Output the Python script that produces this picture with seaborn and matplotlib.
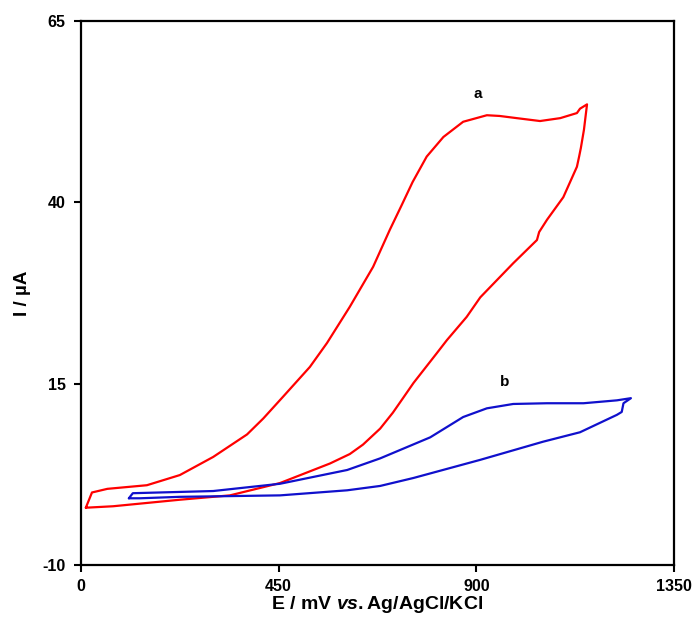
import numpy as np
import pandas as pd
import seaborn as sns
import matplotlib.pyplot as plt

# curve a (red) : closed CV loop, E in mV, I in uA
a_E = [11, 25, 60, 150, 225, 301, 378, 415, 460, 521, 560, 612, 665, 703, 730, 755, 787, 825,
       870, 924, 953, 992, 1045, 1091, 1129, 1136, 1152,
       1145, 1138, 1134, 1129, 1098, 1061, 1043, 1038, 984, 909, 878, 833, 810, 757, 733,
       710, 681, 642, 612, 567, 453, 339, 225, 73, 11]
a_I = [-2.1, 0.0, 0.5, 1.0, 2.4, 4.9, 8.0, 10.2, 13.2, 17.3, 20.6, 25.6, 31.1, 36.2, 39.6, 42.8, 46.3, 49.0,
       51.1, 52.0, 51.9, 51.6, 51.2, 51.6, 52.3, 52.9, 53.5,
       50.0, 47.5, 46.3, 44.9, 40.7, 37.6, 35.9, 34.8, 31.6, 26.9, 24.2, 21.0, 19.2, 15.1, 13.0,
       11.0, 8.8, 6.6, 5.3, 4.0, 1.3, -0.4, -1.0, -1.9, -2.1]

# curve b (blue)
b_E = [109, 118, 301, 453, 606, 681, 795, 870, 924, 984, 1061, 1144, 1220, 1252,
       1235, 1231, 1220, 1136, 1052, 909, 757, 681, 606, 453, 225, 134, 109]
b_I = [-0.8, -0.1, 0.2, 1.2, 3.1, 4.7, 7.6, 10.4, 11.6, 12.2, 12.3, 12.3, 12.7, 13.0,
       12.3, 11.1, 10.7, 8.3, 7.0, 4.5, 2.0, 0.9, 0.3, -0.4, -0.6, -0.8, -0.8]

x_ticks = [0, 450, 900, 1350]
y_ticks = [-10, 15, 40, 65]

sns.set_style("ticks")
plt.rcParams['font.family'] = ['Liberation Sans', 'DejaVu Sans']
plt.rcParams['font.weight'] = 'bold'
plt.rcParams['text.color'] = 'black'
plt.rcParams['axes.labelcolor'] = 'black'
plt.rcParams['xtick.color'] = 'black'
plt.rcParams['ytick.color'] = 'black'
plt.rcParams['axes.unicode_minus'] = False
plt.rcParams['mathtext.fontset'] = 'custom'
plt.rcParams['mathtext.it'] = 'Liberation Sans:italic:bold'
plt.rcParams['mathtext.rm'] = 'Liberation Sans:bold'

fig = plt.figure(figsize=(6.97, 6.19), dpi=100)
ax = fig.add_axes([0.1162, 0.0872, 0.8508, 0.879])

sns.lineplot(x=a_E, y=a_I, sort=False, estimator=None, color='#ff0000', linewidth=1.6, ax=ax)
sns.lineplot(x=b_E, y=b_I, sort=False, estimator=None, color='#1010cc', linewidth=1.6, ax=ax)

ax.text(904, 54.0, 'a', fontsize=11, fontweight='bold', ha='center', va='bottom')
ax.text(965, 14.3, 'b', fontsize=11, fontweight='bold', ha='center', va='bottom')

ax.set_xlim(0, 1350)
ax.set_ylim(-10, 65)
ax.set_xticks(x_ticks)
ax.set_yticks(y_ticks)
ax.tick_params(labelsize=11.5, width=1.5, length=5, direction='out')
ax.tick_params(axis='y', pad=6)
ax.tick_params(axis='x', pad=5)
for s in ax.spines.values():
    s.set_linewidth(1.6)
    s.set_color('black')
for lab in ax.get_xticklabels() + ax.get_yticklabels():
    lab.set_fontweight('bold')

ax.set_xlabel(r'E / mV $\mathit{vs.}$Ag/AgCl/KCl', fontsize=14, fontweight='bold', labelpad=0)
ax.set_ylabel(u'I / \u00b5A', fontsize=13.5, fontweight='bold', labelpad=8)

fig.savefig('out.png', dpi=100)
